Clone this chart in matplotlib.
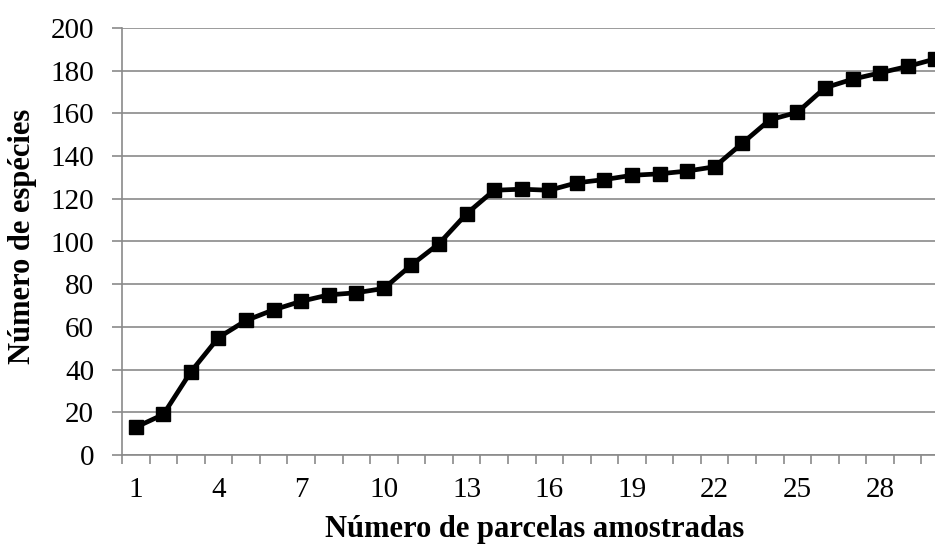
import matplotlib
matplotlib.use("Agg")
import matplotlib.pyplot as plt
import numpy as np

parcelas = list(range(1, 31))
especies = [13, 19, 39, 55, 63, 68, 72, 75, 76, 78,
            89, 99, 113, 124, 124.5, 124, 127.5, 129, 131, 131.7,
            133, 135, 146, 157, 160.5, 172, 176, 179, 182, 185.5]
xtick_labels = [1, 4, 7, 10, 13, 16, 19, 22, 25, 28]
yticks = list(range(0, 201, 20))

plt.rcParams['font.family'] = ['Liberation Serif', 'DejaVu Serif']

W, H = 935, 545
fig = plt.figure(figsize=(W / 100, H / 100), dpi=100)
ax = fig.add_axes([122 / W, 90 / H, 827 / W, 427 / H])

grid_c = '#8a8a8a'
ax.plot(parcelas, especies, color='black', lw=3.4, marker='s', ms=9.5,
        markerfacecolor='black', markeredgecolor='black', zorder=3,
        clip_on=False)

ax.set_xlim(0.5, 30.5)
ax.set_ylim(0, 200)
ax.set_yticks(yticks)
ax.set_yticklabels([str(v) for v in yticks])
ax.yaxis.grid(True, color=grid_c, lw=1.2)
ax.set_axisbelow(True)

# category boundaries as major ticks, labels as minor
ax.set_xticks(np.arange(0.5, 31, 1))
ax.set_xticklabels([])
ax.set_xticks(xtick_labels, minor=True)
ax.set_xticklabels([str(v) for v in xtick_labels], minor=True)
ax.tick_params(axis='x', which='major', direction='out', length=6.5,
               width=1.2, color=grid_c)
ax.tick_params(axis='x', which='minor', length=0, pad=16, labelsize=21)
ax.tick_params(axis='y', direction='out', length=7, width=1.2,
               color=grid_c, pad=13, labelsize=21)

for s in ['top', 'right']:
    ax.spines[s].set_visible(False)
for s in ['left', 'bottom']:
    ax.spines[s].set_color(grid_c)
    ax.spines[s].set_linewidth(1.2)

fig.text(23 / W, 1 - 236 / H, 'Número de espécies', rotation=90,
         ha='center', va='center', fontsize=22, fontweight='bold')
fig.text(535 / W, 1 - 537 / H, 'Número de parcelas amostradas',
         ha='center', va='baseline', fontsize=22, fontweight='bold')

fig.savefig('out.png', dpi=100)
